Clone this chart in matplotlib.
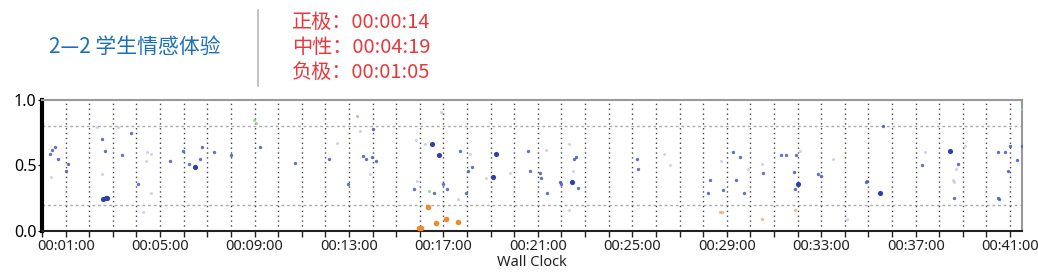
import matplotlib
matplotlib.use("Agg")
import matplotlib.pyplot as plt
from matplotlib.ticker import FixedLocator, MultipleLocator, FuncFormatter
from matplotlib.lines import Line2D

# time in minutes, value = sentiment score 0..1
blue_t = [0.33, 0.43, 0.55, 0.69, 1.08, 1.01, 2.53, 2.68, 3.37, 3.75, 4.05, 5.42,
          5.96, 6.24, 6.48, 6.69, 6.76, 7.30, 8.0, 9.23, 10.72, 12.17, 12.97,
          13.6, 13.7, 13.96, 14.03, 14.13, 15.76, 16.58, 16.97, 17.17, 17.7,
          18.06, 18.2, 17.96, 20.6, 20.65, 21.1, 21.12, 21.4, 21.95, 22.0, 22.68,
          22.55, 22.6, 25.2, 25.25, 28.2, 28.3, 28.85, 29.28, 29.4, 29.56, 29.74,
          30.55, 31.3, 31.5, 31.83, 31.95, 31.9, 32.87, 33.0, 34.9, 34.95,
          35.6, 37.27, 38.8, 38.64, 40.5, 40.8, 40.47, 40.55, 40.9, 41.0, 41.3, 41.5]
blue_v = [0.59, 0.62, 0.64, 0.55, 0.51, 0.46, 0.70, 0.61, 0.58, 0.75, 0.36, 0.53,
          0.61, 0.51, 0.49, 0.55, 0.64, 0.60, 0.58, 0.64, 0.52, 0.55, 0.36,
          0.57, 0.55, 0.56, 0.78, 0.53, 0.32, 0.29, 0.36, 0.32, 0.61,
          0.46, 0.49, 0.29, 0.61, 0.46, 0.44, 0.40, 0.29, 0.37, 0.36, 0.33,
          0.55, 0.56, 0.55, 0.47, 0.29, 0.39, 0.31, 0.60, 0.39, 0.56, 0.29,
          0.44, 0.58, 0.58, 0.45, 0.58, 0.32, 0.43, 0.42, 0.37, 0.38,
          0.80, 0.50, 0.51, 0.25, 0.60, 0.60, 0.25, 0.24, 0.46, 0.65, 0.54, 0.65]

strong_t = [2.6, 2.7, 2.76, 6.48, 16.51, 16.83, 19.24, 19.1, 22.45, 32.03, 35.5, 38.46]
strong_v = [0.24, 0.25, 0.25, 0.49, 0.66, 0.58, 0.59, 0.41, 0.37, 0.36, 0.29, 0.61]

faint_t = [0.36, 2.53, 2.34, 3.23, 4.43, 4.40, 4.60, 4.6, 4.29, 12.48, 13.47, 13.9,
           15.84, 15.87, 16.2, 16.9, 17.6, 18.13, 18.8, 19.83, 21.34, 22.33, 22.5,
           22.3, 26.35, 26.58, 28.74, 29.9, 30.5, 32.1, 33.5, 34.1, 37.41, 38.7,
           38.6, 38.62, 39.1]
faint_v = [0.41, 0.43, 0.79, 0.79, 0.60, 0.53, 0.59, 0.29, 0.14, 0.67, 0.76, 0.43,
           0.69, 0.38, 0.66, 0.91, 0.24, 0.59, 0.40, 0.44, 0.62, 0.66, 0.46,
           0.16, 0.59, 0.50, 0.53, 0.47, 0.51, 0.61, 0.55, 0.09, 0.60, 0.47,
           0.39, 0.37, 0.65]

green_t = [8.99, 9.05, 13.33, 16.4, 41.5]
green_v = [0.85, 0.82, 0.88, 0.30, 0.93]

orange_t = [16.36, 15.97, 16.05, 16.69, 17.1, 17.6, 28.7, 28.78, 30.48, 31.9]
orange_v = [0.18, 0.02, 0.02, 0.06, 0.09, 0.07, 0.14, 0.14, 0.09, 0.16]
orange_big = [True, True, True, True, True, True, False, False, False, False]

x_ticks = [1, 5, 9, 13, 17, 21, 25, 29, 33, 37, 41]
y_ticks = [0.0, 0.5, 1.0]

title = "2—2 学生情感体验"
stats = ["正极：00:00:14", "中性：00:04:19", "负极：00:01:05"]

plt.rcParams['font.family'] = ['Noto Sans', 'DejaVu Sans']
cjk = ['Noto Sans CJK SC', 'DejaVu Sans']

fig = plt.figure(figsize=(10.38, 2.76), dpi=100)
ax = fig.add_axes([0.0405, 0.164, 0.944, 0.474])

ax.scatter(faint_t, faint_v, s=5, color="#8a94d4", alpha=0.4, lw=0, zorder=3)
ax.scatter(green_t, green_v, s=5, color="#8fc98f", alpha=0.8, lw=0, zorder=3)
ax.scatter(blue_t, blue_v, s=6, color="#5462bf", alpha=0.9, lw=0, zorder=4)
ax.scatter(strong_t, strong_v, s=14, color="#3040a8", lw=0, zorder=4)
o_t = [t for t, b in zip(orange_t, orange_big) if b]
o_v = [v for v, b in zip(orange_v, orange_big) if b]
ax.scatter(o_t, o_v, s=16, color="#f08a2c", lw=0, zorder=4, marker="o")
o_t = [t for t, b in zip(orange_t, orange_big) if not b]
o_v = [v for v, b in zip(orange_v, orange_big) if not b]
ax.scatter(o_t, o_v, s=6, color="#f0a060", alpha=0.7, lw=0, zorder=4)

ax.set_xlim(0, 41.5)
ax.set_ylim(0, 1)
ax.xaxis.set_major_locator(FixedLocator(x_ticks))
ax.xaxis.set_minor_locator(MultipleLocator(1))
ax.xaxis.set_major_formatter(FuncFormatter(lambda m, p: "00:%02d:00" % int(round(m))))
ax.set_yticks(y_ticks)
ax.yaxis.set_major_formatter(FuncFormatter(lambda v, p: "%.1f" % v))

ax.grid(which="both", axis="x", color="#444444", ls=(0, (1, 2.5)), lw=1.0)
for yy in [0.2, 0.8]:
    ax.axhline(yy, color="#aaaaaa", ls=(0, (2, 2)), lw=1.0, zorder=1)

ax.spines["left"].set_linewidth(3)
ax.spines["left"].set_color("black")
ax.spines["bottom"].set_linewidth(1.5)
ax.spines["bottom"].set_color("#222222")
ax.spines["top"].set_color("#999999")
ax.spines["top"].set_linewidth(1.5)
ax.spines["right"].set_color("#999999")
ax.spines["right"].set_linewidth(1.5)

ax.tick_params(axis="x", which="both", length=4, width=1, labelsize=10.5, colors="#222222", pad=2)
ax.tick_params(axis="y", length=3, labelsize=11.5, pad=1)
ax.set_xlabel("Wall Clock", fontsize=10.5, labelpad=1, color="#222222")

fig.text(0.1297, 0.83, title, color="#1d6fb8", fontsize=15, family=cjk, ha="center", va="center")
fig.add_artist(Line2D([0.2485, 0.2485], [0.69, 0.965], color="#bbbbbb", lw=1.2))
for i, s in enumerate(stats):
    fig.text(0.281, 0.918 - i * 0.0905, s, color="#e8383d", fontsize=14.5, family=cjk,
             ha="left", va="center")

fig.savefig("out.png", dpi=100)
